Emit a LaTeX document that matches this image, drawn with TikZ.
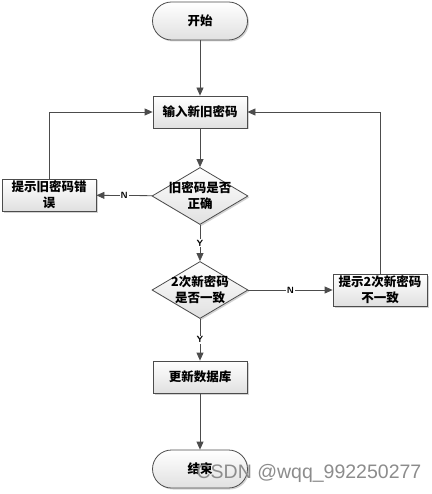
\documentclass[tikz,border=0pt]{standalone}
\usepackage{fontspec}
\newfontfamily\cjk{Noto Sans CJK SC}
\newfontfamily\wmfont{Liberation Sans}
\usetikzlibrary{shapes.geometric,arrows.meta,shadows}
\begin{document}
\begin{tikzpicture}[x=1pt,y=-1pt,>={Triangle[length=8pt,width=7pt]}]
        \useasboundingbox (0,0) rectangle (431,494);
        \begin{scope}
            \tikzstyle{every node}=[text=black, font=\cjk\bfseries\fontsize{12.5}{16}\selectfont, align=center]
            \tikzstyle{flowbase}=[draw=black!70, thick, top color=white, bottom color=black!12, drop shadow={shadow xshift=1.5pt, shadow yshift=-1.5pt, opacity=0.35}]
            \tikzstyle{term}=[flowbase, rounded corners=19pt, minimum width=95pt, minimum height=38pt]
            \tikzstyle{stepbox}=[flowbase, rectangle, minimum width=94pt, minimum height=32pt, inner sep=1pt]
            \tikzstyle{check}=[flowbase, diamond, minimum width=96pt, minimum height=57pt, inner sep=0pt]
            \node[term] (start) at (200,21) {开始};
            \node[stepbox] (input) at (200,112) {输入新旧密码};
            \node[check, label={center:旧密码是否\\正确}] (check1) at (200,196) {};
            \node[stepbox] (olderr) at (49,195) {提示旧密码错\\误};
            \node[check, label={center:2次新密码\\是否一致}] (check2) at (200,290) {};
            \node[stepbox] (newerr) at (380,290) {提示2次新密码\\不一致};
            \node[stepbox] (update) at (200,377) {更新数据库};
            \node[term] (end) at (200,469) {结束};
        \end{scope}
        \begin{scope}
            \tikzstyle{every edge}=[draw, thick, black!70, ->]
            \tikzstyle{every node}=[fill=white, inner sep=1pt, font=\sffamily\small\bfseries, text=black]
            \path
            (start) edge (input)
            (input) edge (check1)
            (check1) edge node{Y} (check2)
            (check2) edge node{Y} (update)
            (update) edge (end)
            (check1) edge node{N} (olderr)
            (check2) edge node{N} (newerr)
            ;
            \draw[thick, black!70, ->] (olderr.north) |- (input.west);
            \draw[thick, black!70, ->] (newerr.north) |- (input.east);
        \end{scope}
        \node[text=black!45, font=\wmfont\fontsize{19.5}{22}\selectfont] (mark) at (309,473) {CSDN @wqq\_992250277};
    \end{tikzpicture}
\end{document}
